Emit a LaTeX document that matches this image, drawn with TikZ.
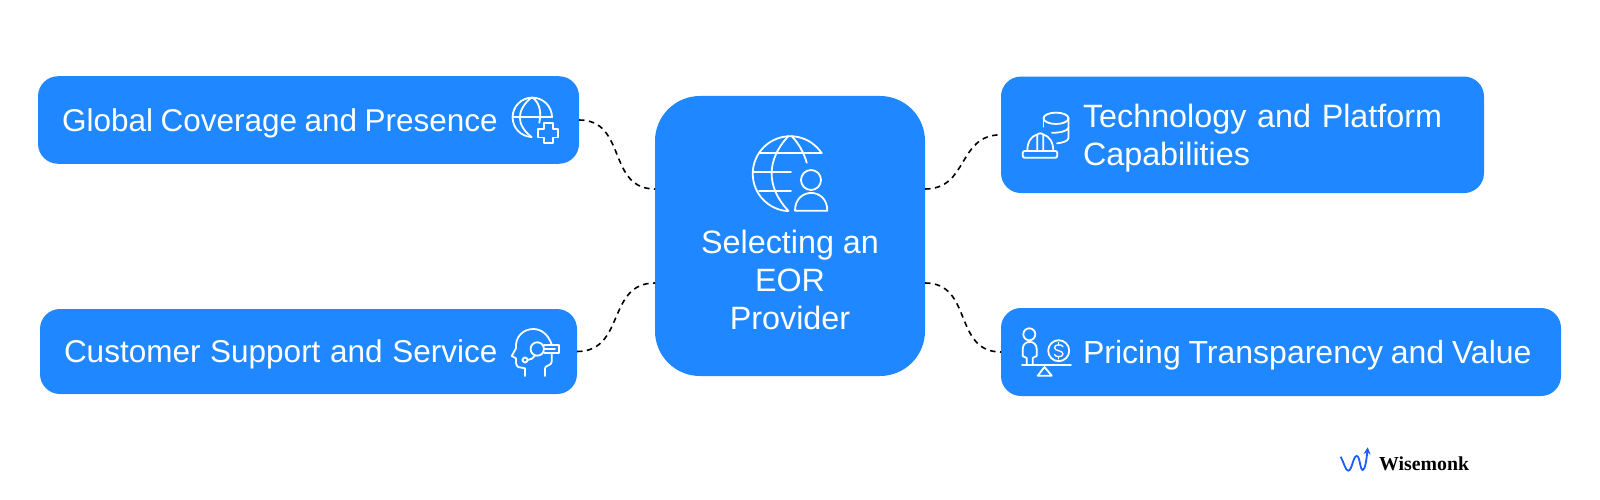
\documentclass[tikz,border=0pt]{standalone}
\usepackage{fontspec}
\setmainfont{Liberation Sans}
\newfontfamily\logofont{Liberation Serif}
\usetikzlibrary{positioning,arrows.meta}
\definecolor{boxblue}{HTML}{1F87FF}
\definecolor{logoblue}{HTML}{1A5CFF}
\begin{document}
\begin{tikzpicture}[x=1pt,y=-1pt,
  main box/.style={fill=boxblue,text=white,rounded corners=20pt,outer sep=0pt,inner xsep=24pt,inner ysep=0pt,text depth=0pt,align=left,font=\fontsize{31.5}{38}\selectfont},
  link/.style={draw=black,line width=1.6pt,dash pattern=on 5.5pt off 4.5pt,out=0,in=180,looseness=1.2},
  icon/.style={draw=white,line width=1.8pt,line join=round,line cap=round}]
  \useasboundingbox (0,0) rectangle (1600,500);
  \node[main box,rounded corners=45pt,minimum width=270pt,minimum height=280pt] (provider) at (790,236) {};
  \node[text=white,align=center,font=\fontsize{32.3}{38}\selectfont] (providerlabel) at (790,280) {Selecting an\\EOR\\Provider};
  \node[main box,left=76pt of provider,yshift=116pt,minimum width=541pt,minimum height=87.5pt,text width=493pt] (coverage) {\spaceskip=7.5pt Global Coverage and Presence};
  \node[main box,left=78pt of provider,yshift=-115.5pt,minimum width=537pt,minimum height=85pt,text width=489pt] (support) {\spaceskip=9.7pt Customer Support and Service};
  \node[main box,right=76pt of provider,yshift=101.2pt,minimum width=483pt,minimum height=116.5pt,text width=435pt,text depth=38pt,font=\fontsize{32.3}{38}\selectfont] (platform) {\hspace*{58pt}Technology and Platform\\\hspace*{58pt}Capabilities};
  \node[main box,right=76pt of provider,yshift=-116pt,minimum width=560pt,minimum height=88pt,text width=512pt,font=\fontsize{32}{38}\selectfont] (pricing) {\spaceskip=7.8pt\hspace*{58pt}Pricing Transparency and Value};
  % connectors
  \draw[link] (coverage.east) to ([yshift=47pt]provider.west);
  \draw[link] (support.east) to ([yshift=-47pt]provider.west);
  \draw[link] ([yshift=47pt]provider.east) to (platform.west);
  \draw[link] ([yshift=-47pt]provider.east) to (pricing.west);
  % centre icon
  \draw[icon] (821.7,153.3) arc[start angle=-33,end angle=-266,radius=37.5];
  \draw[icon] (788.5,136) .. controls (766,160) and (766,187) .. (788.5,211);
  \draw[icon] (791.7,136) .. controls (799,144) and (804,153) .. (806.7,162.7);
  \draw[icon] (760,153.3) -- (821.7,153.3) (753,172.3) -- (791,172.3) (759,191) -- (791,191);
  \draw[icon] (811,180) circle[radius=10];
  \draw[icon] (795,210.7) .. controls (795,187) and (827.3,187) .. (827.3,210.7) -- cycle;
  % globe and plus
  \draw[icon] (552,117.3) arc[start angle=0,end angle=-268,radius=19.7];
  \draw[icon] (531.5,97.5) .. controls (516,110) and (516,125) .. (531.5,137);
  \draw[icon] (532.5,97.5) .. controls (541,104) and (541,114) .. (539.3,122.7);
  \draw[icon] (512.5,117.3) -- (552,117.3);
  \draw[icon] (544,123.3) -- (552.6,123.3) -- (552.6,129) -- (558.3,129) -- (558.3,137.6) -- (552.6,137.6) -- (552.6,143.3) -- (544,143.3) -- (544,137.6) -- (538.3,137.6) -- (538.3,129) -- (544,129) -- cycle;
  % helmet and database
  \draw[icon] (1056,118.3) ellipse[x radius=12.5,y radius=5.7];
  \draw[icon] (1068.5,118.3) -- (1068.5,138) .. controls (1068.5,141) and (1062,143) .. (1057,143.3);
  \draw[icon] (1043.5,118.3) -- (1043.5,126.7);
  \draw[icon] (1068.5,128) .. controls (1067,131) and (1060,133) .. (1052,132.7);
  \draw[icon,rounded corners=1.5pt] (1022.7,151) rectangle (1057.3,157.7);
  \draw[icon] (1027.3,151) .. controls (1027.3,142) and (1031,136) .. (1037.3,134.5);
  \draw[icon] (1053.3,151) .. controls (1053.3,142) and (1049,136) .. (1043.3,134.5);
  \draw[icon] (1037.3,151) -- (1037.3,135) .. controls (1037.3,132.8) and (1043.3,132.8) .. (1043.3,135) -- (1043.3,151);
  % head with headset
  \draw[icon] (525,376) -- (525,368.3) -- (518,367) .. controls (515.5,365) and (516,361) .. (516,358.3) -- (511.7,356) -- (516,348.3) .. controls (515,337) and (523,329) .. (533.3,329) .. controls (541,329) and (548,334) .. (551.7,344.5);
  \draw[icon] (545,376) -- (545,368.3) .. controls (545,365) and (551.7,366) .. (551.7,361.7) -- (551.7,353.3);
  \draw[icon] (537.3,349) circle[radius=6.7];
  \draw[icon] (544,345) -- (559,345) -- (559,353.3) -- (544,353.3);
  \draw[icon] (544.5,349) -- (555,349);
  \draw[icon] (525,360) circle[radius=2.5];
  \draw[icon] (527.5,360) .. controls (531,360) and (533,358) .. (535,355.7);
  % person on scale
  \draw[icon] (1029.3,334.3) circle[radius=6];
  \draw[icon] (1026.7,365) -- (1026.7,358) -- (1022.7,356) -- (1022.7,349) .. controls (1022.7,339.5) and (1036.7,339.5) .. (1036.7,349) -- (1036.7,356) -- (1032.7,358) -- (1032.7,365);
  \draw[icon] (1022,365) -- (1071,365);
  \draw[icon] (1044.5,367) -- (1051.7,375.7) -- (1037.7,375.7) -- cycle;
  \draw[icon] (1058.7,350.7) circle[radius=10.5];
  \draw[icon,line width=1.3pt] (1063,346.7) .. controls (1062,344) and (1054.5,344) .. (1054.5,347.7) .. controls (1054.5,351.5) and (1063,350) .. (1063,354) .. controls (1063,357.5) and (1055,357.5) .. (1054.5,354.5);
  \draw[icon,line width=1.3pt] (1058.7,342.5) -- (1058.7,345) (1058.7,356.5) -- (1058.7,359);
  % logo
  \draw[logoblue,line width=1.8pt,-{Stealth[length=7pt,width=7pt]}] (1340.7,456.7) .. controls (1344,463) and (1345.5,470.7) .. (1348.3,470.7) .. controls (1352,470.7) and (1353,456) .. (1356.7,456) .. controls (1360,456) and (1360,470) .. (1362.7,470) .. controls (1365,470) and (1366.5,460) .. (1367.7,447.3);
  \node[anchor=base west,inner sep=0pt,font=\logofont\bfseries\fontsize{19.8}{22}\selectfont] (logotext) at (1379,470) {Wisemonk};
\end{tikzpicture}
\end{document}
